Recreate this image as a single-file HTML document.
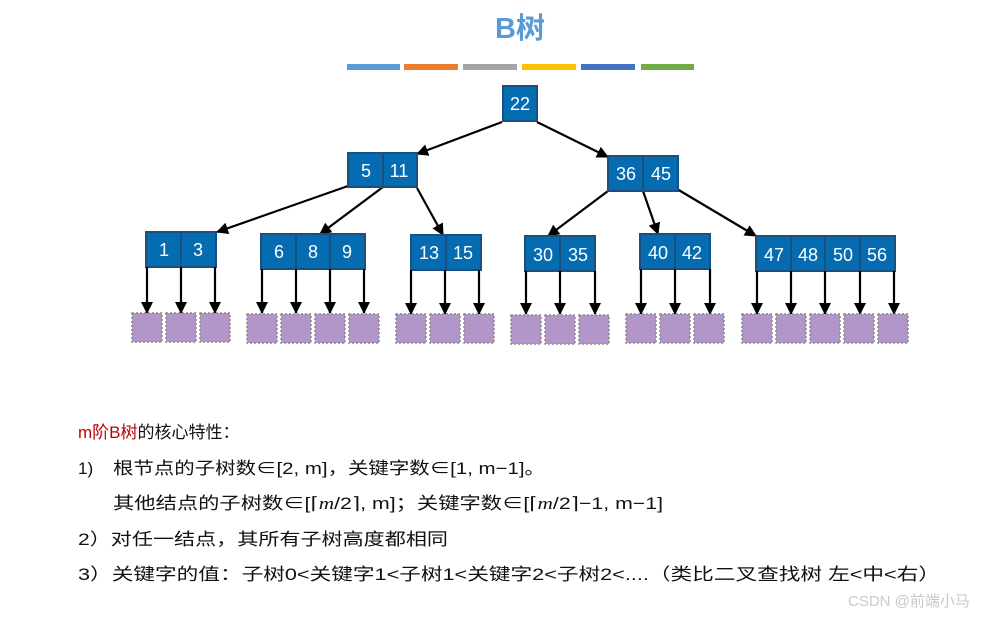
<!DOCTYPE html>
<html><head><meta charset="utf-8"><style>
html,body{margin:0;padding:0;background:#fff;}
svg{display:block;}
.c{fill:#066cb2;stroke:#1b4f7e;stroke-width:2;}
.n{fill:#fff;font:18px "Liberation Sans",sans-serif;text-anchor:middle;}
.l{fill:#b396c9;stroke:#8a8a8a;stroke-width:1.5;stroke-dasharray:2 2;}
.t{font:17px "Liberation Sans","Noto Sans CJK SC",sans-serif;fill:#111;}
</style></head><body>
<svg width="1006" height="618" viewBox="0 0 1006 618" xmlns="http://www.w3.org/2000/svg">
<defs>
<marker id="ah2" markerWidth="12" markerHeight="12" refX="11" refY="6" orient="auto" markerUnits="userSpaceOnUse"><path d="M0,0 L12,6 L0,12z" fill="#000"/></marker></defs>
<text x="520" y="38" text-anchor="middle" style="font:bold 29px 'Liberation Sans','Noto Sans CJK SC',sans-serif;fill:#5b9bd5">B树</text>
<g>
<rect x="347" y="64" width="53" height="6" fill="#5b9bd5"/>
<rect x="404" y="64" width="54" height="6" fill="#ed7d31"/>
<rect x="463" y="64" width="54" height="6" fill="#a5a5a5"/>
<rect x="522" y="64" width="54" height="6" fill="#ffc000"/>
<rect x="581" y="64" width="54" height="6" fill="#4472c4"/>
<rect x="641" y="64" width="53" height="6" fill="#70ad47"/>
</g>
<g stroke="#000" stroke-width="2.2">
<line x1="502" y1="122" x2="417" y2="154" marker-end="url(#ah2)"/>
<line x1="537" y1="122" x2="608" y2="157" marker-end="url(#ah2)"/>
<line x1="348" y1="186" x2="217" y2="232" marker-end="url(#ah2)"/>
<line x1="383" y1="187" x2="320" y2="234" marker-end="url(#ah2)"/>
<line x1="417" y1="188" x2="443" y2="235" marker-end="url(#ah2)"/>
<line x1="608" y1="191" x2="548" y2="236" marker-end="url(#ah2)"/>
<line x1="643" y1="191" x2="658" y2="234" marker-end="url(#ah2)"/>
<line x1="677" y1="189" x2="756" y2="236" marker-end="url(#ah2)"/>
</g>
<rect class="c" x="503" y="86" width="34" height="35"/><text class="n" x="520" y="110">22</text>
<rect class="c" x="348" y="153" width="35" height="34"/><rect class="c" x="383" y="153" width="34" height="34"/>
<text class="n" x="366" y="177">5</text><text class="n" x="399" y="177">11</text>
<rect class="c" x="608" y="156" width="35" height="35"/><rect class="c" x="643" y="156" width="35" height="35"/>
<text class="n" x="626" y="180">36</text><text class="n" x="661" y="180">45</text>
<g>
<rect class="c" x="146" y="232" width="35" height="35"/><rect class="c" x="181" y="232" width="35" height="35"/>
<text class="n" x="164" y="256">1</text><text class="n" x="198" y="256">3</text>
<rect class="c" x="261" y="234" width="35" height="35"/><rect class="c" x="296" y="234" width="34" height="35"/><rect class="c" x="330" y="234" width="35" height="35"/>
<text class="n" x="279" y="258">6</text><text class="n" x="313" y="258">8</text><text class="n" x="347" y="258">9</text>
<rect class="c" x="411" y="235" width="35" height="35"/><rect class="c" x="446" y="235" width="35" height="35"/>
<text class="n" x="429" y="259">13</text><text class="n" x="463" y="259">15</text>
<rect class="c" x="525" y="236" width="35" height="35"/><rect class="c" x="560" y="236" width="35" height="35"/>
<text class="n" x="543" y="261">30</text><text class="n" x="578" y="261">35</text>
<rect class="c" x="640" y="234" width="35" height="35"/><rect class="c" x="675" y="234" width="35" height="35"/>
<text class="n" x="658" y="259">40</text><text class="n" x="692" y="259">42</text>
<rect class="c" x="756" y="236" width="35" height="35"/><rect class="c" x="791" y="236" width="34" height="35"/><rect class="c" x="825" y="236" width="35" height="35"/><rect class="c" x="860" y="236" width="35" height="35"/>
<text class="n" x="774" y="261">47</text><text class="n" x="808" y="261">48</text><text class="n" x="843" y="261">50</text><text class="n" x="877" y="261">56</text>
</g>
<g stroke="#000" stroke-width="2.2">
<line x1="147" y1="267" x2="147" y2="313" marker-end="url(#ah2)"/><line x1="181" y1="267" x2="181" y2="313" marker-end="url(#ah2)"/><line x1="215" y1="267" x2="215" y2="313" marker-end="url(#ah2)"/>
<line x1="262" y1="269" x2="262" y2="313" marker-end="url(#ah2)"/><line x1="296" y1="269" x2="296" y2="313" marker-end="url(#ah2)"/><line x1="330" y1="269" x2="330" y2="313" marker-end="url(#ah2)"/><line x1="364" y1="269" x2="364" y2="313" marker-end="url(#ah2)"/>
<line x1="411" y1="270" x2="411" y2="314" marker-end="url(#ah2)"/><line x1="445" y1="270" x2="445" y2="314" marker-end="url(#ah2)"/><line x1="479" y1="270" x2="479" y2="314" marker-end="url(#ah2)"/>
<line x1="526" y1="271" x2="526" y2="314" marker-end="url(#ah2)"/><line x1="560" y1="271" x2="560" y2="314" marker-end="url(#ah2)"/><line x1="595" y1="271" x2="595" y2="314" marker-end="url(#ah2)"/>
<line x1="641" y1="269" x2="641" y2="314" marker-end="url(#ah2)"/><line x1="675" y1="269" x2="675" y2="314" marker-end="url(#ah2)"/><line x1="710" y1="269" x2="710" y2="314" marker-end="url(#ah2)"/>
<line x1="757" y1="271" x2="757" y2="314" marker-end="url(#ah2)"/><line x1="791" y1="271" x2="791" y2="314" marker-end="url(#ah2)"/><line x1="825" y1="271" x2="825" y2="314" marker-end="url(#ah2)"/><line x1="860" y1="271" x2="860" y2="314" marker-end="url(#ah2)"/><line x1="894" y1="271" x2="894" y2="314" marker-end="url(#ah2)"/>
</g>
<g>
<rect class="l" x="132" y="313" width="30" height="29"/><rect class="l" x="166" y="313" width="30" height="29"/><rect class="l" x="200" y="313" width="30" height="29"/>
<rect class="l" x="247" y="314" width="30" height="29"/><rect class="l" x="281" y="314" width="30" height="29"/><rect class="l" x="315" y="314" width="30" height="29"/><rect class="l" x="349" y="314" width="30" height="29"/>
<rect class="l" x="396" y="314" width="30" height="29"/><rect class="l" x="430" y="314" width="30" height="29"/><rect class="l" x="464" y="314" width="30" height="29"/>
<rect class="l" x="511" y="315" width="30" height="29"/><rect class="l" x="545" y="315" width="30" height="29"/><rect class="l" x="579" y="315" width="30" height="29"/>
<rect class="l" x="626" y="314" width="30" height="29"/><rect class="l" x="660" y="314" width="30" height="29"/><rect class="l" x="694" y="314" width="30" height="29"/>
<rect class="l" x="742" y="314" width="30" height="29"/><rect class="l" x="776" y="314" width="30" height="29"/><rect class="l" x="810" y="314" width="30" height="29"/><rect class="l" x="844" y="314" width="30" height="29"/><rect class="l" x="878" y="314" width="30" height="29"/>
</g>
<text class="t" x="78" y="438"><tspan fill="#c00000">m阶B树</tspan>的核心特性：</text>
<text class="t" x="78" y="474">1)</text>
<text class="t" x="113" y="474" textLength="432" lengthAdjust="spacingAndGlyphs">根节点的子树数∈[2, m]，关键字数∈[1, m−1]。</text>
<text class="t" x="113" y="509" textLength="550" lengthAdjust="spacingAndGlyphs">其他结点的子树数∈[⌈<tspan font-style="italic" font-family="Liberation Serif">m</tspan>/2⌉, m]；关键字数∈[⌈<tspan font-style="italic" font-family="Liberation Serif">m</tspan>/2⌉−1, m−1]</text>
<text class="t" x="78" y="545" textLength="370" lengthAdjust="spacingAndGlyphs">2）对任一结点，其所有子树高度都相同</text>
<text class="t" x="78" y="580" textLength="862" lengthAdjust="spacingAndGlyphs">3）关键字的值：子树0&lt;关键字1&lt;子树1&lt;关键字2&lt;子树2&lt;....（类比二叉查找树 左&lt;中&lt;右）</text>
<text x="848" y="606" style="font:15px 'Liberation Sans','Noto Sans CJK SC',sans-serif;fill:#c8c8c8">CSDN @前端小马</text>
</svg>
</body></html>
